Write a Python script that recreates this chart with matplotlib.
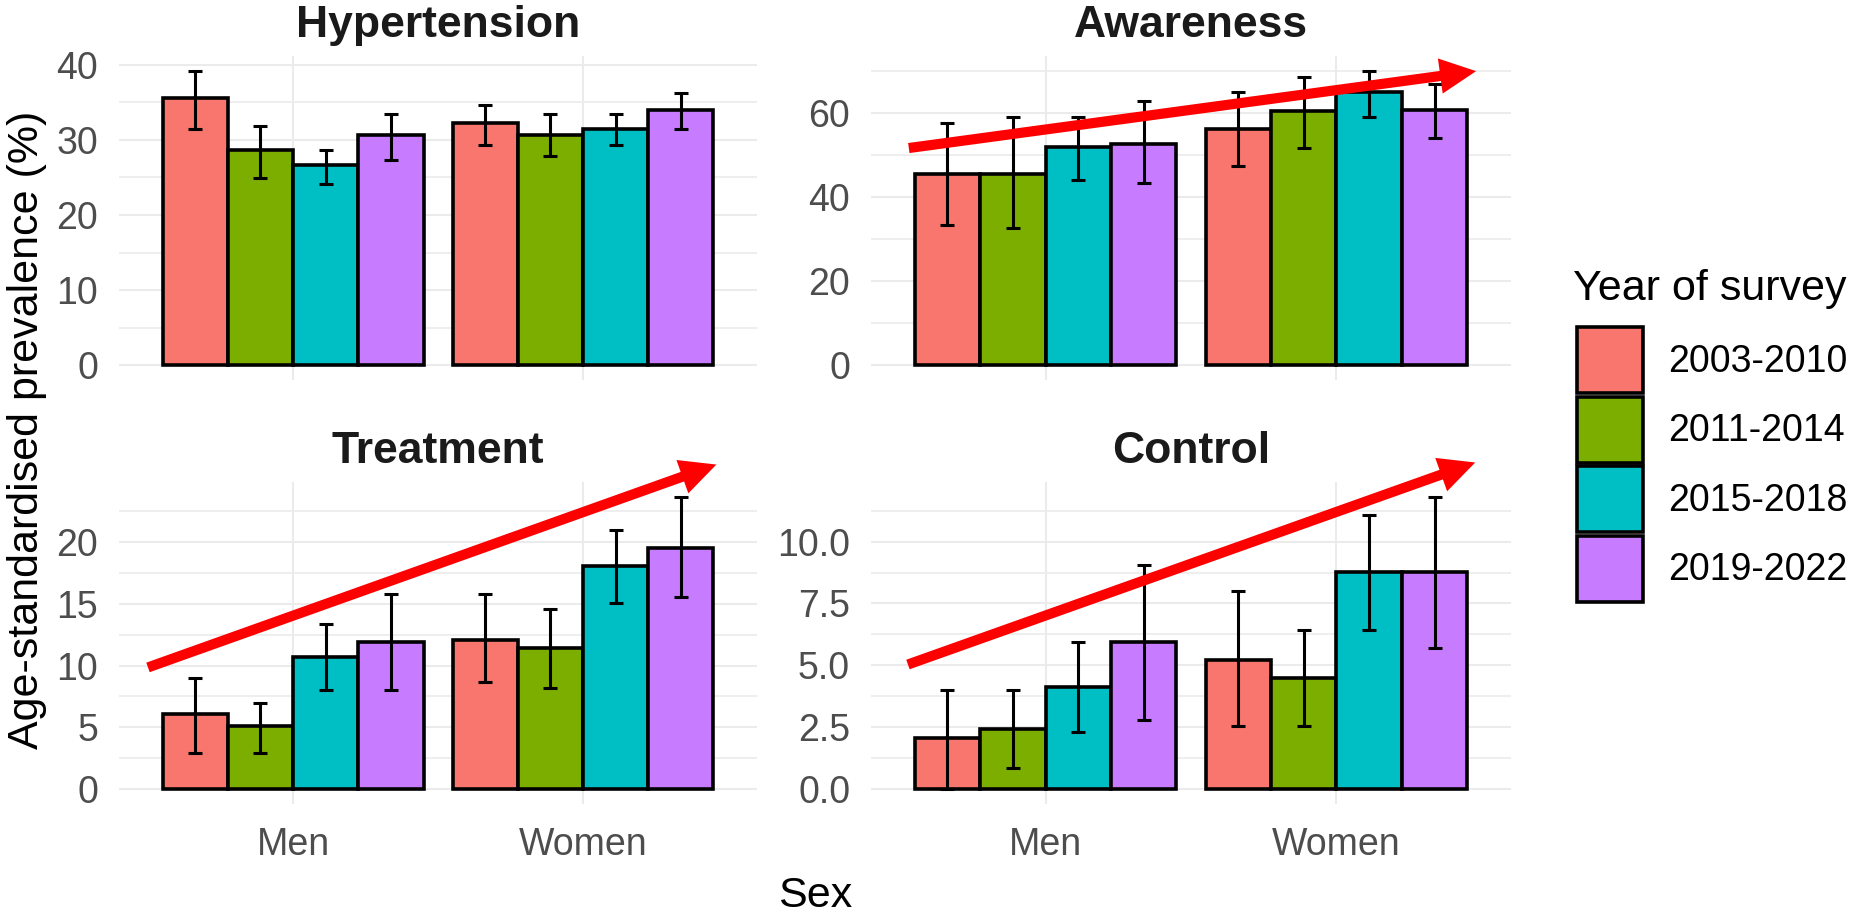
import matplotlib
matplotlib.use("Agg")
import matplotlib.pyplot as plt
from matplotlib.patches import Patch
from matplotlib.ticker import MultipleLocator, FormatStrFormatter
import numpy as np

plt.rcParams['font.family'] = ['Liberation Sans', 'DejaVu Sans']

sexes = ["Men", "Women"]
periods = ["2003-2010", "2011-2014", "2015-2018", "2019-2022"]
colors = ["#F8766D", "#7CAE00", "#00BFC4", "#C77CFF"]
panels = ["Hypertension", "Awareness", "Treatment", "Control"]

# rows = survey period, columns = [Men, Women]
hypertension_est = [[35.6, 32.2], [28.6, 30.6], [26.6, 31.4], [30.6, 34.0]]
hypertension_lo = [[31.4, 29.3], [24.9, 27.8], [24.1, 29.3], [27.3, 31.5]]
hypertension_hi = [[39.2, 34.7], [31.8, 33.5], [28.6, 33.5], [33.5, 36.3]]

awareness_est = [[45.6, 56.2], [45.6, 60.6], [51.9, 65.0], [52.7, 60.8]]
awareness_lo = [[33.4, 47.5], [32.7, 51.8], [44.0, 59.0], [43.4, 54.0]]
awareness_hi = [[57.7, 65.1], [59.1, 68.7], [59.1, 70.1], [62.9, 67.0]]

treatment_est = [[6.1, 12.1], [5.1, 11.4], [10.7, 18.1], [11.9, 19.5]]
treatment_lo = [[2.9, 8.7], [2.9, 8.2], [8.0, 15.1], [8.0, 15.6]]
treatment_hi = [[9.0, 15.8], [7.0, 14.6], [13.4, 21.0], [15.8, 23.7]]

control_est = [[2.05, 5.22], [2.42, 4.49], [4.12, 8.78], [5.95, 8.78]]
control_lo = [[0.0, 2.54], [0.84, 2.54], [2.3, 6.43], [2.78, 5.70]]
control_hi = [[4.0, 8.01], [4.0, 6.43], [5.95, 11.09], [9.04, 11.82]]

# red trend arrows (start, end) in data coordinates
arrow_start = {"Awareness": (0.53, 51.7), "Treatment": (0.5, 9.85), "Control": (0.527, 5.03)}
arrow_end = {"Awareness": (2.48, 70.0), "Treatment": (2.46, 26.3), "Control": (2.477, 13.2)}

panel_data = {
    "Hypertension": (hypertension_est, hypertension_lo, hypertension_hi, 10, 5, "%d"),
    "Awareness": (awareness_est, awareness_lo, awareness_hi, 20, 10, "%d"),
    "Treatment": (treatment_est, treatment_lo, treatment_hi, 5, 2.5, "%d"),
    "Control": (control_est, control_lo, control_hi, 2.5, 1.25, "%.1f"),
}

W, H = 1855, 917
fig = plt.figure(figsize=(W / 100, H / 100), dpi=100)

# panel boxes in pixels: left, right, top, bottom
cols = [(119, 757), (871, 1511)]
rows = [(56, 380), (482, 803.5)]

bar_w = 0.225
offsets = (np.arange(len(periods)) - 1.5) * bar_w
xpos = np.arange(1, len(sexes) + 1)

for i, name in enumerate(panels):
    r, c = divmod(i, 2)
    (l, rt), (t, b) = cols[c], rows[r]
    ax = fig.add_axes([l / W, 1 - b / H, (rt - l) / W, (b - t) / H])
    est, lo, hi, major, minor, fmt = panel_data[name]
    est, lo, hi = np.array(est), np.array(lo), np.array(hi)

    for k, period in enumerate(periods):
        x = xpos + offsets[k]
        ax.bar(x, est[k], width=bar_w, color=colors[k], edgecolor="black",
               linewidth=2.6, zorder=2)
        ax.errorbar(x, est[k], yerr=[est[k] - lo[k], hi[k] - est[k]], fmt="none",
                    ecolor="black", elinewidth=2.2, capsize=5, capthick=2.2, zorder=3)

    # ggplot-like 5% expansion of the data range
    ymin = min(0, lo.min())
    ymax = hi.max()
    pad = 0.05 * (ymax - ymin)
    ax.set_ylim(ymin - pad, ymax + pad)
    ax.set_xlim(0.4, 2.6)

    ax.yaxis.set_major_locator(MultipleLocator(major))
    ax.yaxis.set_minor_locator(MultipleLocator(minor))
    ax.yaxis.set_major_formatter(FormatStrFormatter(fmt))
    ax.set_xticks(xpos)
    ax.set_xticklabels(sexes if r == 1 else ["", ""])

    ax.grid(which="major", color="#EBEBEB", linewidth=1.5, zorder=0)
    ax.grid(which="minor", axis="y", color="#EBEBEB", linewidth=1.2, zorder=0)
    ax.set_axisbelow(True)
    for s in ax.spines.values():
        s.set_visible(False)
    ax.tick_params(which="both", length=0)
    ax.tick_params(axis="y", labelsize=27, labelcolor="#4D4D4D", pad=15)
    ax.tick_params(axis="x", labelsize=27, labelcolor="#4D4D4D", pad=17)

    ax.set_title(name, fontsize=32, fontweight="bold", color="#1A1A1A", pad=13.7)

    if name in arrow_start:
        ax.annotate("", xy=arrow_end[name], xytext=arrow_start[name],
                    xycoords="data", textcoords="data",
                    arrowprops=dict(arrowstyle="simple,head_length=26,head_width=25.5,tail_width=7.3",
                                    mutation_scale=1, color="red", lw=0,
                                    shrinkA=0, shrinkB=0),
                    annotation_clip=False, zorder=10)

fig.text(815 / W, 1 - 916 / H, "Sex", ha="center", va="bottom", fontsize=31)
fig.text(27 / W, 1 - 430 / H, "Age-standardised prevalence (%)", ha="center",
         va="center", rotation=90, fontsize=31)

# legend
fig.text(1573 / W, 1 - 300 / H, "Year of survey", ha="left", va="baseline", fontsize=31)
handles = [Patch(facecolor=c, edgecolor="black", linewidth=2.6) for c in colors]
fig.legend(handles, periods, loc="upper left", bbox_to_anchor=(1577 / W, 1 - 327 / H),
           frameon=False, fontsize=27, handlelength=1.76, handleheight=2.33,
           labelspacing=0.096, handletextpad=0.67, borderpad=0, borderaxespad=0)

fig.savefig("out.png", dpi=100)
plt.close(fig)
